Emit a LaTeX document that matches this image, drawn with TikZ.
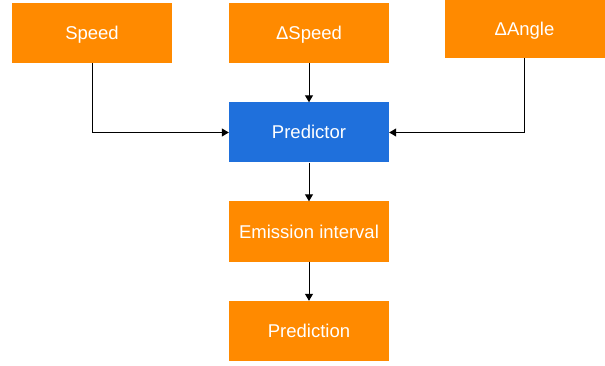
\documentclass[tikz,border=0pt]{standalone}
\usepackage{fontspec}
\setmainfont{Liberation Sans}
\usetikzlibrary{arrows.meta}

\definecolor{boxorange}{HTML}{FF8A00}
\definecolor{boxblue}{HTML}{1F70DC}

\tikzset{
  block/.style={fill=boxorange,text=white,minimum width=160pt,minimum height=60pt,inner sep=0pt,
    text height=13pt,text depth=0pt,font=\fontsize{18.5}{20}\selectfont},
  link/.style={-{Triangle[width=8pt,length=7pt]},line width=1pt}
}

\begin{document}
\begin{tikzpicture}[x=1pt,y=-1pt]
\useasboundingbox (0,0) rectangle (605,366);
% inputs
\node[block] (speed) at (92,33) {Speed};
\node[block] (dspeed) at (309,33) {ΔSpeed};
\node[block,minimum height=58pt] (dangle) at (524.5,29) {ΔAngle};
% model and outputs
\node[block,fill=boxblue] (predictor) at (309,132.5) {Predictor};
\node[block] (emission) at (309,231.5) {Emission interval};
\node[block] (prediction) at (309,331) {Prediction};
\draw[link] (speed.south) |- (predictor.west);
\draw[link] (dspeed) -- (predictor);
\draw[link] (dangle.south) |- (predictor.east);
\draw[link] (predictor) -- (emission);
\draw[link] (emission) -- (prediction);
\end{tikzpicture}
\end{document}
